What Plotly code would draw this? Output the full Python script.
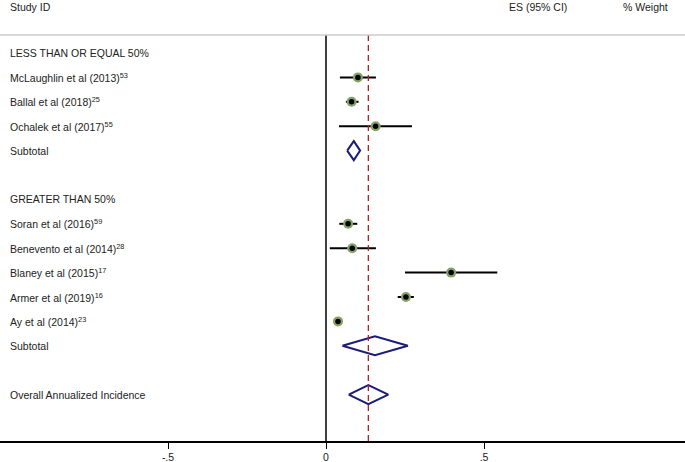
import plotly.graph_objects as go

# ---- data ----
row_labels = ["LESS THAN OR EQUAL 50%",
              "McLaughlin et al (2013)<sup>53</sup>",
              "Ballal et al (2018)<sup>25</sup>",
              "Ochalek et al (2017)<sup>55</sup>",
              "Subtotal",
              "",
              "GREATER THAN 50%",
              "Soran et al (2016)<sup>59</sup>",
              "Benevento et al (2014)<sup>28</sup>",
              "Blaney et al (2015)<sup>17</sup>",
              "Armer et al (2019)<sup>16</sup>",
              "Ay et al (2014)<sup>23</sup>",
              "Subtotal",
              "",
              "Overall Annualized Incidence"]

study_rows = [1, 2, 3, 7, 8, 9, 10, 11]
study_es = [0.101, 0.081, 0.157, 0.070, 0.083, 0.396, 0.253, 0.038]
study_lo = [0.044, 0.063, 0.041, 0.042, 0.012, 0.250, 0.227, 0.030]
study_hi = [0.158, 0.103, 0.272, 0.099, 0.158, 0.542, 0.278, 0.046]

pooled_rows = [4, 12, 14]
pooled_es = [0.088, 0.155, 0.134]
pooled_lo = [0.067, 0.052, 0.072]
pooled_hi = [0.108, 0.259, 0.197]

overall_es = 0.134

x_tickvals = [-0.5, 0, 0.5]
x_ticktext = ["-.5", "0", ".5"]

header_left = "Study ID"
header_es = "ES (95% CI)"
header_wt = "% Weight"

# ---- layout geometry ----
W, H = 685, 462
px_per_unit = 316.0
x0_px = 326.0
xmin = -x0_px / px_per_unit
xmax = (W - x0_px) / px_per_unit
top_px, bot_px = 35, 441
row0_px, row_h = 53.0, 24.4
ytop = (top_px - row0_px) / row_h
ybot = (bot_px - row0_px) / row_h

FONT = "Liberation Sans, Arial, sans-serif"
TXT = "#222222"
fig = go.Figure()

# study CIs
fig.add_trace(go.Scatter(
    x=study_es, y=study_rows, mode="markers",
    marker=dict(size=10, color="#86a266", line=dict(width=0)),
    error_x=dict(type="data", symmetric=False,
                 array=[h - e for h, e in zip(study_hi, study_es)],
                 arrayminus=[e - l for e, l in zip(study_es, study_lo)],
                 color="black", thickness=2, width=0),
    hoverinfo="skip", showlegend=False))
fig.add_trace(go.Scatter(
    x=study_es, y=study_rows, mode="markers",
    marker=dict(size=5.5, color="black"),
    hoverinfo="skip", showlegend=False))

# diamonds
dh = 0.39
for r, e, lo, hi in zip(pooled_rows, pooled_es, pooled_lo, pooled_hi):
    fig.add_trace(go.Scatter(
        x=[lo, e, hi, e, lo], y=[r, r - dh, r, r + dh, r],
        mode="lines", line=dict(color="#1b1b7a", width=2),
        hoverinfo="skip", showlegend=False))

# reference lines
fig.add_shape(type="line", x0=0, x1=0, y0=0, y1=1, xref="x", yref="paper",
              line=dict(color="black", width=1.5))
fig.add_shape(type="line", x0=overall_es, x1=overall_es, y0=0, y1=1,
              xref="x", yref="paper",
              line=dict(color="#b22222", width=1.3, dash="6px,4px"))
# header separator line
fig.add_shape(type="line", x0=0, x1=1, y0=1, y1=1, xref="paper", yref="paper",
              line=dict(color="#cccccc", width=1.5))

# row labels
for i, lab in enumerate(row_labels):
    if not lab:
        continue
    fig.add_annotation(x=(8 - x0_px) / px_per_unit, y=i, xref="x", yref="y",
                       text=lab, showarrow=False, xanchor="left", yanchor="middle",
                       font=dict(family=FONT, size=10.5, color=TXT))

# headers
for txt, xp in [(header_left, 8), (header_es, 507), (header_wt, 621)]:
    fig.add_annotation(x=xp / W, y=1, xref="paper", yref="paper",
                       text=txt, showarrow=False, xanchor="left", yanchor="middle",
                       yshift=top_px - 7, font=dict(family=FONT, size=10.5, color=TXT))

fig.update_layout(
    width=W, height=H,
    margin=dict(l=0, r=0, t=top_px, b=H - bot_px),
    paper_bgcolor="white", plot_bgcolor="white",
    xaxis=dict(range=[xmin, xmax], showgrid=False, zeroline=False,
               tickvals=x_tickvals, ticktext=x_ticktext,
               ticks="outside", ticklen=6, tickcolor="black", tickwidth=1,
               showline=True, linecolor="black", linewidth=1.5,
               tickfont=dict(family=FONT, size=10.5, color=TXT)),
    yaxis=dict(range=[ybot, ytop], visible=False, showgrid=False, zeroline=False),
)

fig.write_html("out.html", config={"displayModeBar": False},
               post_script="document.body.style.margin='0';document.body.style.padding='0';")
